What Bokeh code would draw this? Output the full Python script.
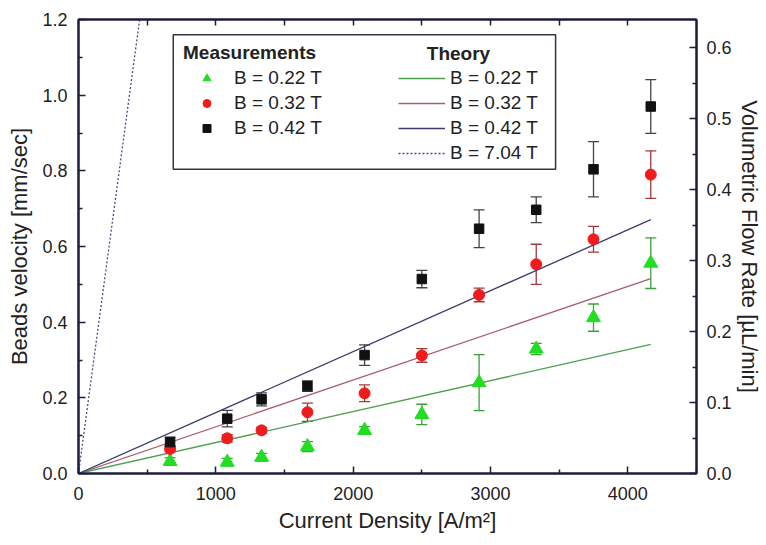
from bokeh.plotting import figure
from bokeh.models import (ColumnDataSource, Whisker, TeeHead, LinearAxis, Range1d,
                          FixedTicker, NumeralTickFormatter, Legend, LegendItem,
                          BoxAnnotation, Label)
from bokeh.embed import file_html
from bokeh.resources import INLINE

# ---------------- data ----------------
current_density = [667, 1083, 1333, 1667, 2083, 2500, 2917, 3333, 3750, 4167]

vel_022 = [0.032, 0.030, 0.043, 0.071, 0.114, 0.156, 0.240, 0.329, 0.412, 0.556]
err_022 = [0.010, 0.010, 0.010, 0.013, 0.010, 0.027, 0.074, 0.015, 0.036, 0.067]
vel_032 = [0.065, 0.093, 0.114, 0.162, 0.212, 0.312, 0.472, 0.553, 0.619, 0.790]
err_032 = [0.008, 0.010, 0.008, 0.024, 0.022, 0.018, 0.018, 0.053, 0.034, 0.063]
vel_042 = [0.083, 0.145, 0.196, 0.231, 0.313, 0.514, 0.647, 0.697, 0.804, 0.970]
err_042 = [0.013, 0.022, 0.017, 0.014, 0.027, 0.023, 0.050, 0.034, 0.073, 0.071]

theory_x = [0, 4167]
theory_022 = [0, 0.341]
theory_032 = [0, 0.515]
theory_042 = [0, 0.671]
theory_704_x = [0, 445]
theory_704 = [0, 1.2]

labels_B = ["B = 0.22 T", "B = 0.32 T", "B = 0.42 T", "B = 7.04 T"]

x_ticks = [0, 1000, 2000, 3000, 4000]
x_minor = [500, 1500, 2500, 3500, 4500]
x_top_ticks = [500, 1000, 1500, 2000, 2500, 3000, 3500, 4000]
y_ticks = [0.0, 0.2, 0.4, 0.6, 0.8, 1.0, 1.2]
y_minor = [0.1, 0.3, 0.5, 0.7, 0.9, 1.1]
flow_ticks = [0.0, 0.1, 0.2, 0.3, 0.4, 0.5, 0.6]
flow_minor = [0.05, 0.15, 0.25, 0.35, 0.45, 0.55]

FONT = "Liberation Sans"
TXT = "#222222"
AX = "#1c1c3c"

p = figure(width=766, height=545, x_range=(0, 4500), y_range=(0, 1.2),
           output_backend="svg", toolbar_location=None,
           min_border_left=78, min_border_right=70, min_border_top=19, min_border_bottom=72,
           background_fill_color="white", border_fill_color="white")
p.xgrid.grid_line_color = None
p.ygrid.grid_line_color = None
p.outline_line_color = AX
p.outline_line_width = 2
p.extra_y_ranges = {"flow": Range1d(0, 0.64)}


def style_axis(ax, size="18px"):
    ax.axis_line_color = AX
    ax.axis_line_width = 2
    ax.major_tick_line_color = AX
    ax.minor_tick_line_color = AX
    ax.major_tick_line_width = 1.5
    ax.minor_tick_line_width = 1.5
    ax.major_tick_in = 7
    ax.major_tick_out = 0
    ax.minor_tick_in = 4
    ax.minor_tick_out = 0
    ax.major_label_text_font = FONT
    ax.major_label_text_font_size = size
    ax.major_label_text_color = TXT
    ax.axis_label_text_font = FONT
    ax.axis_label_text_font_size = "22px"
    ax.axis_label_text_font_style = "normal"
    ax.axis_label_text_color = TXT


xa = p.xaxis[0]
xa.ticker = FixedTicker(ticks=x_ticks, minor_ticks=x_minor)
xa.axis_label = "Current Density [A/m²]"
style_axis(xa)
xa.major_label_standoff = 13
xa.axis_label_standoff = 5

ya = p.yaxis[0]
ya.ticker = FixedTicker(ticks=y_ticks, minor_ticks=y_minor)
ya.formatter = NumeralTickFormatter(format="0.0")
ya.axis_label = "Beads velocity [mm/sec]"
style_axis(ya)
ya.major_label_standoff = 11
ya.axis_label_standoff = 7

ra = LinearAxis(y_range_name="flow", axis_label="Volumetric Flow Rate [µL/min]",
                ticker=FixedTicker(ticks=flow_ticks, minor_ticks=flow_minor),
                formatter=NumeralTickFormatter(format="0.0"))
style_axis(ra)
ra.major_label_standoff = 10
ra.axis_label_standoff = 2
p.add_layout(ra, "right")

ta = LinearAxis(ticker=FixedTicker(ticks=[], minor_ticks=x_top_ticks))
style_axis(ta)
ta.minor_tick_in = 6
ta.major_label_standoff = 0
p.add_layout(ta, "above")

# theory lines
l1 = p.line(theory_x, theory_022, line_color="#4c9f4c", line_width=1.3)
l2 = p.line(theory_x, theory_032, line_color="#a8606c", line_width=1.3)
l3 = p.line(theory_x, theory_042, line_color="#3a3a6c", line_width=1.3)
l4 = p.line(theory_704_x, theory_704, line_color="#4a4a88", line_width=1.3, line_dash="2 2")

# measurements with error bars
series = [
    (vel_022, err_022, "#22dd22", "#3aa03a", "triangle", 14),
    (vel_032, err_032, "#ee1c1c", "#a03838", "circle", 11),
    (vel_042, err_042, "#111111", "#444444", "square", 9.5),
]
scatters = []
for vel, err, col, ecol, marker, size in series:
    src = ColumnDataSource(dict(
        x=current_density, y=vel,
        lo=[v - e for v, e in zip(vel, err)],
        hi=[v + e for v, e in zip(vel, err)]))
    w = Whisker(source=src, base="x", upper="hi", lower="lo", line_color=ecol, line_width=1.3,
                upper_head=TeeHead(size=11, line_color=ecol, line_width=1.3),
                lower_head=TeeHead(size=11, line_color=ecol, line_width=1.3))
    p.add_layout(w)
    r = p.scatter("x", "y", source=src, marker=marker, size=size,
                  fill_color=col, line_color=col)
    scatters.append(r)

# legend frame
box = BoxAnnotation(left=690, right=3474, top=1.160, bottom=0.804,
                    fill_color="white", fill_alpha=1.0, line_color="#333344",
                    line_width=1.5, line_alpha=1.0)
p.add_layout(box)

leg1 = Legend(items=[LegendItem(label=labels_B[i], renderers=[scatters[i]]) for i in range(3)],
              location=(105, 334), title="Measurements")
leg2 = Legend(items=[LegendItem(label=labels_B[i], renderers=[r]) for i, r in enumerate([l1, l2, l3, l4])],
              location=(320, 309))
for lg, gw, ls in [(leg1, 47, 4), (leg2, 47, 5)]:
    lg.padding = 0
    lg.margin = 0
    lg.spacing = 3
    lg.border_line_alpha = 0
    lg.background_fill_alpha = 0
    lg.glyph_width = gw
    lg.glyph_height = 20
    lg.label_height = 20
    lg.label_standoff = ls
    lg.label_text_font = FONT
    lg.label_text_font_size = "19px"
    lg.label_text_color = TXT
    lg.title_text_font = FONT
    lg.title_text_font_size = "19px"
    lg.title_text_font_style = "bold"
    lg.title_text_color = TXT
    lg.title_standoff = 3
    p.add_layout(lg)

theory_title = Label(x=2536, y=1.111, text="Theory", text_font=FONT, text_font_size="19px",
                     text_font_style="bold", text_color=TXT, text_baseline="middle")
p.add_layout(theory_title)

open("out.html", "w").write(file_html(p, INLINE))
